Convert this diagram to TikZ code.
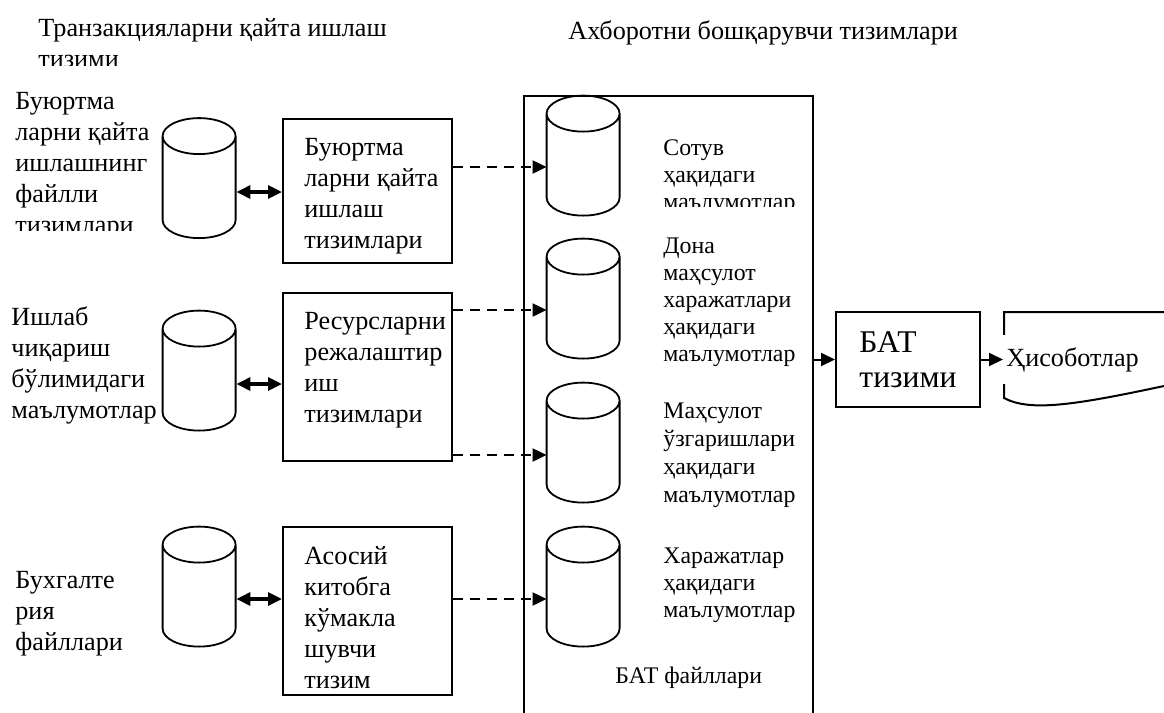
\documentclass[tikz,border=0pt]{standalone}
\usepackage{fontspec}
\setmainfont{Liberation Serif}
\usetikzlibrary{arrows.meta}
\usetikzlibrary{positioning}

\tikzset{
  txt/.style={font=\fontsize{13.1}{15.5}\selectfont, align=left, inner sep=0pt, anchor=base west},
  dbtxt/.style={font=\fontsize{11.9}{13.5}\selectfont, align=left, inner sep=0pt, anchor=base west},
  sysbox/.style={draw, line width=1pt, minimum width=84.5pt, inner sep=0pt},
  store/.style={minimum width=36.5pt, minimum height=60pt, inner sep=0pt},
  link/.style={line width=1.6pt, {Triangle[length=7pt, width=6.5pt]}-{Triangle[length=7pt, width=6.5pt]}},
  flow/.style={line width=1pt, dash pattern=on 5pt off 3.5pt, -{Triangle[length=7pt, width=6.5pt]}},
  feed/.style={line width=1pt, -{Triangle[length=7pt, width=6.5pt]}}
}

\begin{document}
\begin{tikzpicture}[x=0.5pt, y=-0.5pt]
\useasboundingbox (0,0) rectangle (1164,713);

% titles
\begin{scope}
  \clip (0,0) rectangle (520,65);
  \node[txt] (title1) at (38,67) {Транзакцияларни қайта ишлаш\\тизими};
\end{scope}
\node[txt] (title2) at (568,39) {Ахборотни бошқарувчи тизимлари};

% left labels
\begin{scope}
  \clip (0,80) rectangle (160,230);
  \node[txt] (lab1) at (15,233) {Буюртма\\ларни қайта\\ишлашнинг\\файлли\\тизимлари};
\end{scope}
\node[txt] (lab2) at (11,418) {Ишлаб\\чиқариш\\бўлимидаги\\маълумотлар};
\node[txt] (lab3) at (15,650) {Бухгалте\\рия\\файллари};

% transaction files
\node[store] (lc1) at (199.5,178.5) {};
\node[store] (lc2) at (199.5,371) {};
\node[store] (lc3) at (199.5,587) {};

% transaction systems
\node[sysbox, minimum height=72pt] (b1) at (367.5,191) {};
\node[sysbox, minimum height=84pt] (b2) at (367.5,377) {};
\node[sysbox, minimum height=84pt] (b3) at (367.5,611) {};
\node[txt] (t1) at ([shift={(22,130)}]b1.north west) {Буюртма\\ларни қайта\\ишлаш\\тизимлари};
\node[txt] (t2) at ([shift={(22,130)}]b2.north west) {Ресурсларни\\режалаштир\\иш\\тизимлари};
\node[txt] (t3) at ([shift={(22,162)}]b3.north west) {Асосий\\китобга\\кўмакла\\шувчи\\тизим};

\draw[link] (lc1.east |- 0,192) -- (b1.west |- 0,192);
\draw[link] (lc2.east |- 0,384) -- (b2.west |- 0,384);
\draw[link] (lc3.east |- 0,599) -- (b3.west |- 0,599);

% MIS files
\node[draw, line width=1pt, minimum width=144.5pt, minimum height=320pt, anchor=north west] (store) at (523,95) {};
\node[store] (ic1) at (583.5,156) {};
\node[store] (ic2) at (583.5,299) {};
\node[store] (ic3) at (583.5,443) {};
\node[store] (ic4) at (583.5,587) {};

% cylinder outlines
\foreach \c in {lc1,lc2,lc3,ic1,ic2,ic3,ic4}
  \draw[line width=0.9pt] (\c.north west) ++(0,-9pt)
    arc[start angle=180, end angle=540, x radius=18.25pt, y radius=9pt]
    -- ++(0,-42pt) arc[start angle=180, end angle=360, x radius=18.25pt, y radius=9pt]
    -- ++(0,42pt);

\begin{scope}
  \clip (640,110) rectangle (810,206);
  \node[dbtxt] (d1) at (663,209) {Сотув\\ҳақидаги\\маълумотлар};
\end{scope}
\node[dbtxt] (d2) at (663,361) {Дона\\маҳсулот\\харажатлари\\ҳақидаги\\маълумотлар};
\node[dbtxt, font=\fontsize{11.9}{14}\selectfont] (d3) at (663,502) {Маҳсулот\\ўзгаришлари\\ҳақидаги\\маълумотлар};
\node[dbtxt] (d4) at (663,617) {Харажатлар\\ҳақидаги\\маълумотлар};
\node[dbtxt] (files) at (615,683) {БАТ файллари};

\draw[flow] (b1.east |- 0,167) -- (ic1.west |- 0,167);
\draw[flow] (b2.east |- 0,310) -- (ic2.west |- 0,310);
\draw[flow] (b2.east |- 0,455) -- (ic3.west |- 0,455);
\draw[flow] (b3.east |- 0,599) -- (ic4.west |- 0,599);

% MIS and reports
\node[sysbox, minimum width=72pt, minimum height=47.5pt, font=\fontsize{15.8}{17.5}\selectfont, align=left] (bat) at (908,359.5) {БАТ\\тизими};
\draw[feed] (bat.west -| store.east) -- (bat.west);

\draw[line width=1pt] (1190,312) -- (1004,312) -- (1004,398)
  .. controls (1030,412) and (1075,405) .. (1164,386) -- (1190,382);
\node[txt, fill=white, inner xsep=1.5pt, minimum height=24.5pt, right=11pt of bat] (rep) {Ҳисоботлар};
\draw[feed] (bat.east) -- (rep.west);
\end{tikzpicture}
\end{document}
